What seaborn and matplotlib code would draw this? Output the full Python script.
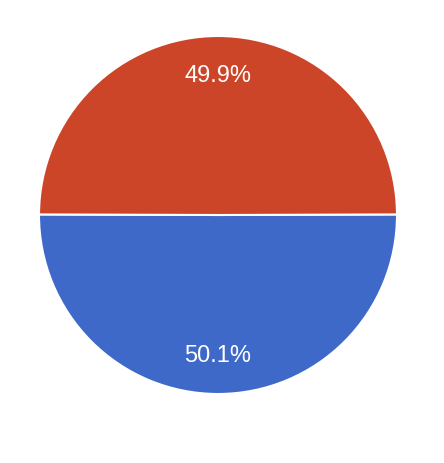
import matplotlib
matplotlib.use("Agg")
import matplotlib.pyplot as plt
import seaborn as sns

# slice data (blue first, drawn counter-clockwise from the left)
labels = ["B", "A"]
shares = [50.1, 49.9]
colors = ["#3E69C9", "#CC4528"]

sns.set_theme(style="white")
plt.rcParams["font.family"] = ["Liberation Sans", "DejaVu Sans"]

W, H = 444, 464
fig = plt.figure(figsize=(W / 100, H / 100), dpi=100)
cx, cy, r = 218, 216, 179
ax = fig.add_axes([(cx - r) / W, (H - cy - r) / H, 2 * r / W, 2 * r / H])

wedges, texts, autotexts = ax.pie(
    shares, colors=colors, startangle=179.82, counterclock=True,
    autopct="%1.1f%%", pctdistance=0.78, radius=1.0,
    wedgeprops={"edgecolor": "white", "linewidth": 1.5},
    textprops={"color": "white", "fontsize": 17},
)
ax.set_xlim(-1.0, 1.0)
ax.set_ylim(-1.0, 1.0)
ax.set_aspect("equal")
ax.axis("off")

fig.savefig("out.png", dpi=100)
